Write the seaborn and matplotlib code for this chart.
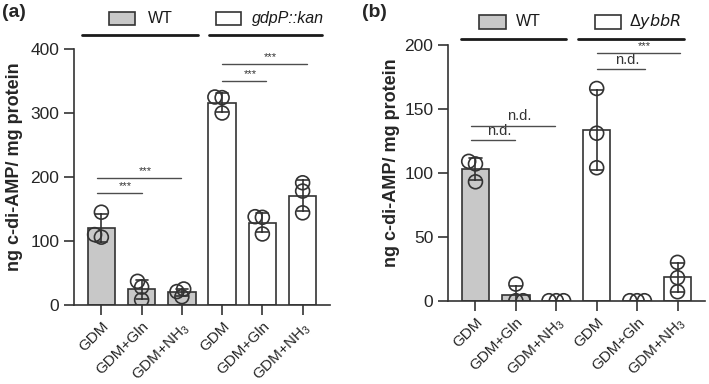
import matplotlib
matplotlib.use("Agg")
import matplotlib.pyplot as plt
import matplotlib.transforms as mtrans
from matplotlib.patches import Rectangle
import pandas as pd
import seaborn as sns

sns.set_style("ticks")
plt.rcParams['font.family'] = ['Liberation Sans', 'DejaVu Sans']
plt.rcParams['mathtext.default'] = 'regular'

conditions = ["GDM", "GDM+Gln", "GDM+NH$_3$"]

# panel (a): WT vs gdpP::kan, three replicates each
a_strains = ["WT", "gdpP::kan"]
a_wt = [[145, 106, 110], [37, 28, 8], [13, 25, 21]]
a_mut = [[300, 325, 324], [137, 138, 111], [191, 178, 144]]

# panel (b): WT vs ybbR deletion
b_strains = ["WT", "ybbR"]
b_wt = [[93, 107, 109], [13, 0, 0], [0, 0, 0]]
b_mut = [[166, 131, 104], [0, 0, 0], [30, 18, 7]]

GREY = "#c8c8c8"
DARK = "0.2"
swarms = []


def make_df(strains, wt, mut):
    rows = []
    for strain, vals in zip(strains, [wt, mut]):
        for cond, reps in zip(conditions, vals):
            for v in reps:
                rows.append({"strain": strain, "sample": strain + " " + cond, "value": v})
    return pd.DataFrame(rows)


def draw(ax, df, strains, ymax, yticks):
    order = list(dict.fromkeys(df["sample"]))
    sns.barplot(data=df, x="sample", y="value", hue="strain", order=order,
                palette={strains[0]: GREY, strains[1]: "white"}, dodge=False,
                width=0.68, errorbar="sd", capsize=0.3, edgecolor=DARK,
                linewidth=1.2, err_kws={"color": DARK, "linewidth": 1.2},
                legend=False, ax=ax)
    n = len(ax.collections)
    # small size for a tight swarm; markers are enlarged after layout
    sns.swarmplot(data=df, x="sample", y="value", order=order, size=3.8,
                  color="white", edgecolor=DARK, linewidth=1.2, ax=ax)
    for c in ax.collections[n:]:
        c.set_facecolor("none")
        c.set_edgecolor(DARK)
        c.set_linewidth(1.2)
        c.set_zorder(4)
        swarms.append(c)
    ax.set_xlim(-0.68, 5.68)
    ax.set_ylim(0, ymax)
    ax.set_yticks(yticks)
    ax.set_xticks(range(6))
    ax.set_xticklabels(conditions * 2, rotation=45, ha="right",
                       rotation_mode="anchor", fontsize=11)
    ax.tick_params(axis="y", labelsize=12.5, length=7, width=1.2, color=DARK)
    ax.tick_params(axis="x", length=7, width=1.2, color=DARK, pad=3.5)
    for s in ["left", "bottom"]:
        ax.spines[s].set_linewidth(1.2)
        ax.spines[s].set_color(DARK)
    sns.despine(ax=ax)
    ax.set_xlabel("")
    ax.set_ylabel("ng c-di-AMP/ mg protein", fontsize=13, fontweight="bold")


def bracket(ax, x0, x1, y, label, fs):
    ax.plot([x0, x1], [y, y], color="0.3", lw=1.0, zorder=5)
    ax.text((x0 + x1) / 2 + 0.15, y + ax.get_ylim()[1] * 0.008, label,
            ha="center", va="bottom", fontsize=fs, color="0.2")


def header(ax, line_spans, boxes, texts, y_line, y_box, y_text):
    tr = mtrans.blended_transform_factory(ax.transData, ax.transAxes)
    for (x0, x1) in line_spans:
        ax.plot([x0, x1], [y_line, y_line], color="0.1", lw=2, transform=tr, clip_on=False)
    for (x0, x1), fc in zip(boxes, [GREY, "white"]):
        ax.add_patch(Rectangle((x0, y_box[0]), x1 - x0, y_box[1] - y_box[0],
                               facecolor=fc, edgecolor=DARK, lw=1.2,
                               transform=tr, clip_on=False))
    for x, t, style in texts:
        ax.text(x, y_text, t, transform=tr, ha="left", va="center", fontsize=11.5,
                color="0.1", fontstyle=style)


fig = plt.figure(figsize=(7.09, 3.84), dpi=100)

ax_a = fig.add_axes([74 / 709, 1 - 305 / 384, 256 / 709, 256 / 384])
draw(ax_a, make_df(a_strains, a_wt, a_mut), a_strains, 400, [0, 100, 200, 300, 400])
ax_a.yaxis.set_label_coords(-0.2, 0.54)
bracket(ax_a, -0.1, 1.0, 175, "***", 8)
bracket(ax_a, -0.1, 1.98, 198, "***", 8)
bracket(ax_a, 3.0, 4.1, 350, "***", 8)
bracket(ax_a, 3.0, 5.1, 376, "***", 8)
header(ax_a, [(-0.47, 2.4), (2.67, 5.47)], [(0.2, 0.84), (2.85, 3.47)],
       [(1.16, "WT", "normal"), (3.74, "gdpP::kan", "italic")], 1.055, (1.094, 1.145), 1.12)

ax_b = fig.add_axes([448 / 709, 1 - 300.7 / 384, 257 / 709, 255.7 / 384])
draw(ax_b, make_df(b_strains, b_wt, b_mut), b_strains, 200, [0, 50, 100, 150, 200])
ax_b.yaxis.set_label_coords(-0.187, 0.54)
bracket(ax_b, -0.1, 0.97, 125.7, "n.d.", 10.5)
bracket(ax_b, -0.1, 1.96, 137, "n.d.", 10.5)
bracket(ax_b, 3.0, 4.2, 181, "n.d.", 10.5)
bracket(ax_b, 3.0, 5.06, 193.6, "***", 8)
header(ax_b, [(-0.37, 2.25), (2.54, 5.16)], [(0.09, 0.75), (2.95, 3.6)],
       [(1.01, "WT", "normal"), (3.8, "Δ$\\it{ybbR}$", "normal")], 1.023, (1.063, 1.117), 1.09)

fig.text(0.003, 0.99, "(a)", fontsize=14, fontweight="bold", va="top", ha="left")
fig.text(0.511, 0.99, "(b)", fontsize=14, fontweight="bold", va="top", ha="left")

# fix swarm positions at the small size, then show the larger open circles
fig.canvas.draw()
for c in swarms:
    if "draw" in c.__dict__:
        del c.draw
    c.set_sizes([100])

fig.savefig("out.png", dpi=100)
